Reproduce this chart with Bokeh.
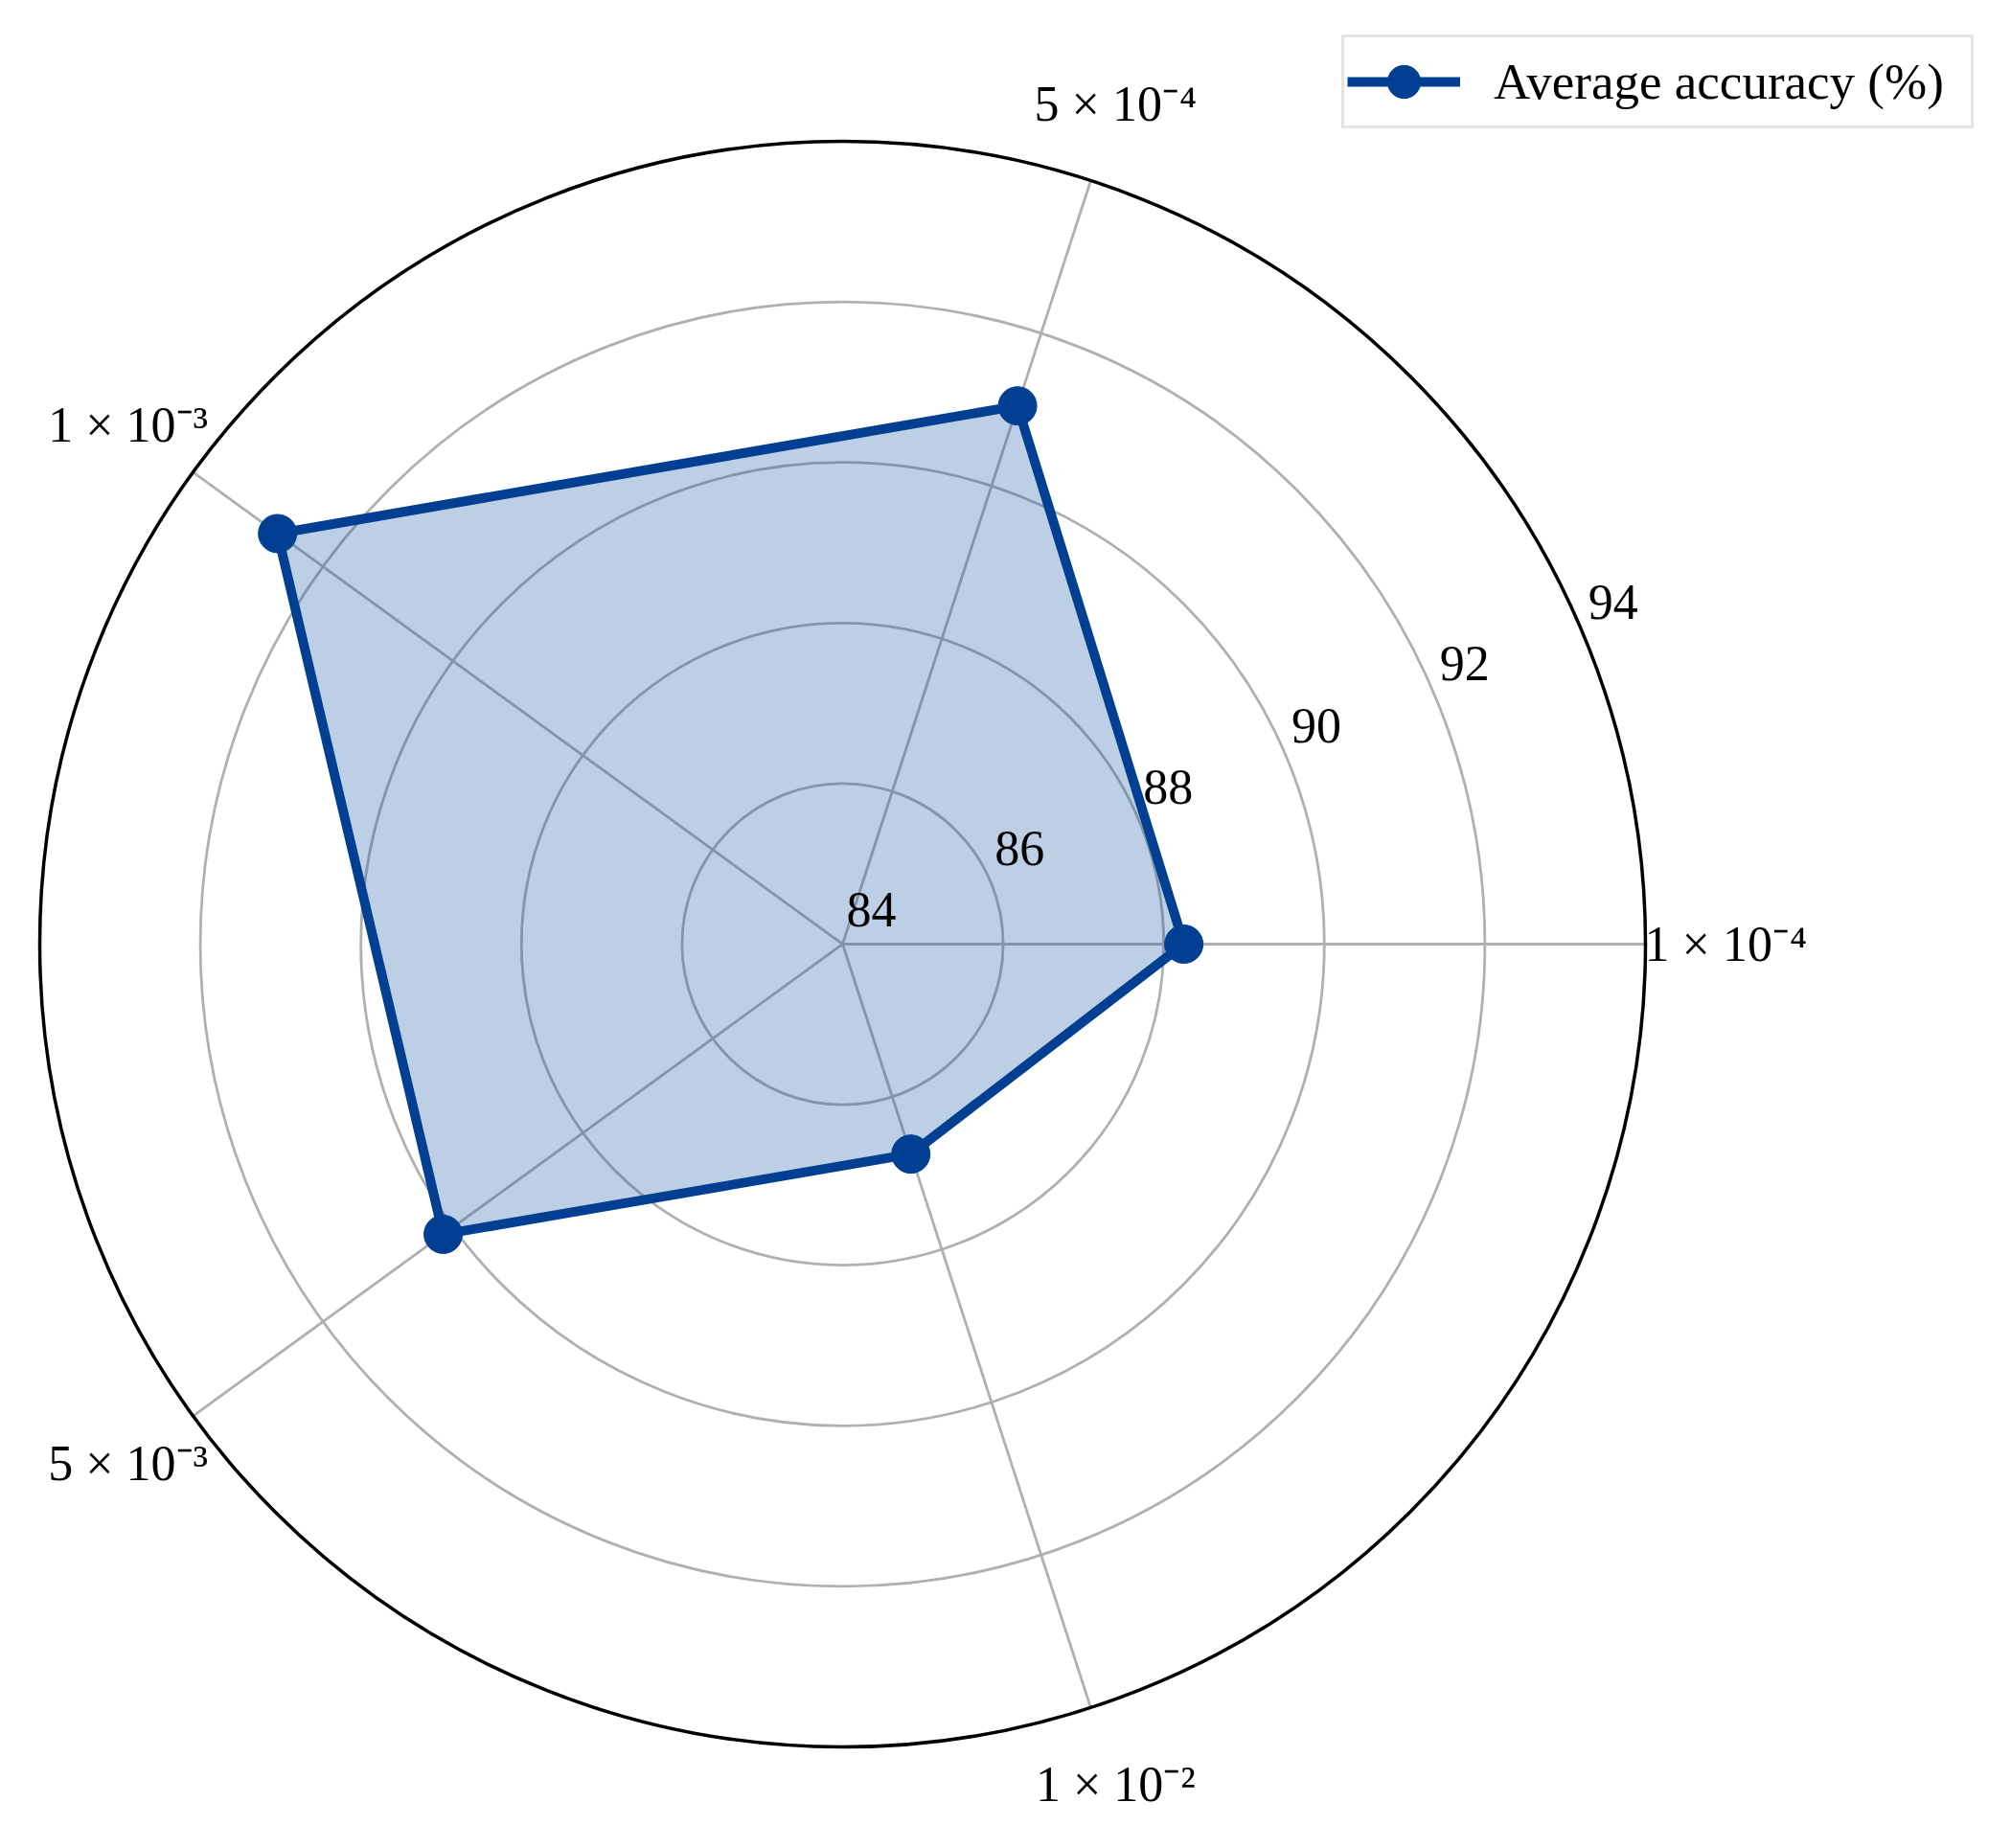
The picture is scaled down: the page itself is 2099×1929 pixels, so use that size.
import numpy as np
from bokeh.plotting import figure
from bokeh.models import Range1d, Legend, LegendItem
from bokeh.embed import file_html
from bokeh.resources import INLINE

# ---- data ----
categories = ["1 × 10⁻⁴", "5 × 10⁻⁴", "1 × 10⁻³", "5 × 10⁻³", "1 × 10⁻²"]
accuracy = [88.25, 91.05, 92.7, 90.15, 86.75]
r_ticks = [84, 86, 88, 90, 92, 94]
r_min, r_max = 84, 94
series_label = "Average accuracy (%)"

# ---- styling ----
FONT = "Liberation Serif"
LINE_COLOR = "#003f91"
GRID_COLOR = "#b0b0b0"
W, H = 2080, 1910
S = 83.8            # pixels per radial unit
CX, CY = 879, 985   # centre in figure pixels (from left / top)

x0 = -CX / S
y1 = CY / S
p = figure(width=W, height=H, output_backend="svg", toolbar_location=None,
           x_range=Range1d(x0, x0 + W / S), y_range=Range1d(y1 - H / S, y1),
           x_axis_type=None, y_axis_type=None, min_border=0,
           background_fill_color="white", border_fill_color="white")
p.outline_line_color = None

n = len(categories)
theta = np.arange(n) * 2 * np.pi / n
R = r_max - r_min

# grid rings
inner = [t - r_min for t in r_ticks if r_min < t < r_max]
p.circle(x=[0] * len(inner), y=[0] * len(inner), radius=inner,
         fill_color=None, line_color=GRID_COLOR, line_width=2.8)
# spokes
p.segment(x0=[0] * n, y0=[0] * n, x1=list(R * np.cos(theta)), y1=list(R * np.sin(theta)),
          line_color=GRID_COLOR, line_width=2.8)
# outer circle
p.circle(x=[0], y=[0], radius=[R], fill_color=None, line_color="black", line_width=3.5)

# data polygon
rv = np.array(accuracy) - r_min
xs = rv * np.cos(theta)
ys = rv * np.sin(theta)
p.patch(x=list(xs), y=list(ys), fill_color="#0a4c9e", fill_alpha=0.27, line_color=None)
ln = p.line(x=list(xs) + [xs[0]], y=list(ys) + [ys[0]], line_color=LINE_COLOR,
            line_width=10, line_join="round")
sc = p.scatter(x=list(xs), y=list(ys), size=40, fill_color=LINE_COLOR, line_color=LINE_COLOR)

# radial tick labels at 22.5 degrees
ang = np.deg2rad(22.5)
rt = np.array(r_ticks) - r_min
p.text(x=list(rt * np.cos(ang)), y=list(rt * np.sin(ang)), text=[str(t) for t in r_ticks],
       text_font=FONT, text_font_size="52px", text_align="left",
       text_baseline="alphabetic", x_offset=4, y_offset=-36, text_color="black")

# category labels
lr = 11.0
p.text(x=list(lr * np.cos(theta)), y=list(lr * np.sin(theta)), text=categories,
       text_font=FONT, text_font_size="52px", text_align="center",
       text_baseline="middle", text_color="black")

legend = Legend(items=[LegendItem(label=series_label, renderers=[ln, sc])],
                location=(1400, 1776))
legend.label_text_font = FONT
legend.label_text_font_size = "53px"
legend.label_text_color = "black"
legend.glyph_width = 118
legend.glyph_height = 86
legend.label_height = 86
legend.label_width = 495
legend.label_standoff = 35
legend.padding = 3
legend.border_line_color = "#cccccc"
legend.border_line_width = 3
legend.background_fill_color = "white"
legend.background_fill_alpha = 1.0
p.add_layout(legend)

open("out.html", "w").write(file_html(p, INLINE))
